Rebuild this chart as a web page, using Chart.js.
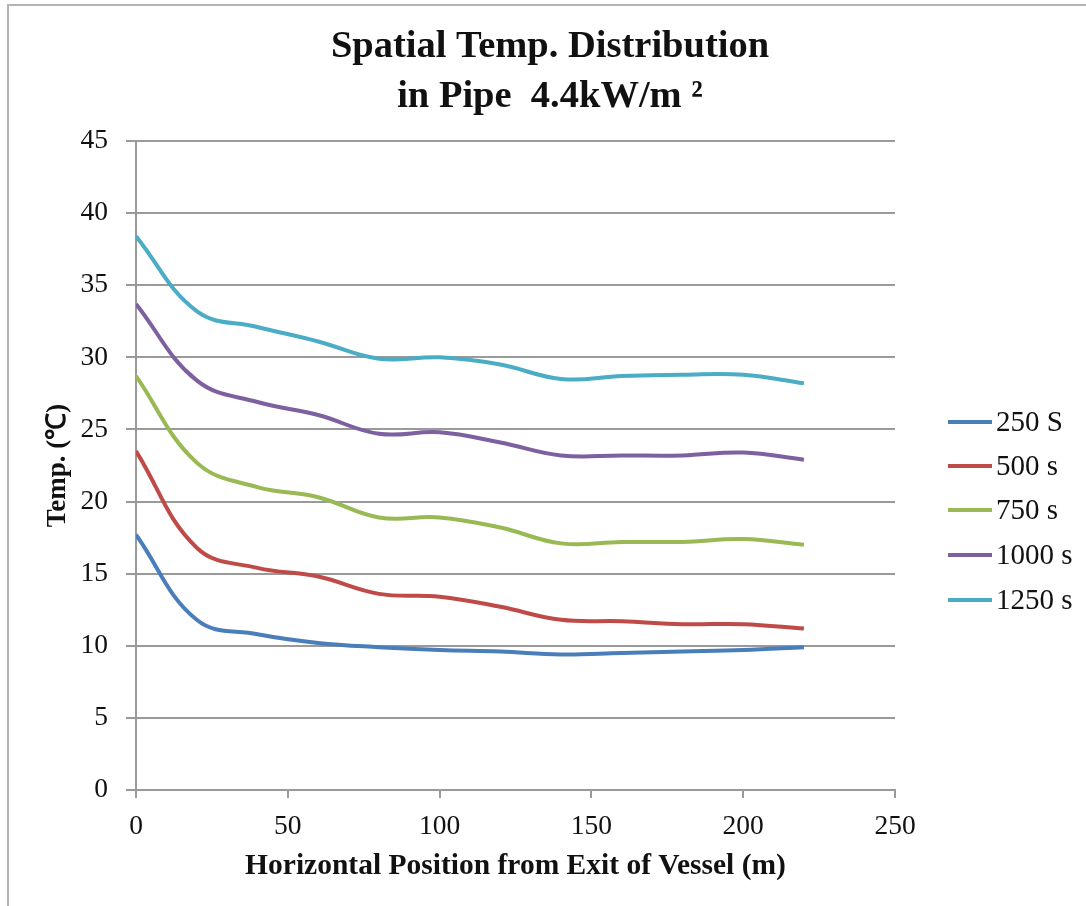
<!DOCTYPE html>
<html>
<head>
<meta charset="utf-8">
<script src="https://cdn.jsdelivr.net/npm/chart.js@4/dist/chart.umd.min.js"></script>
<style>
  html, body { margin: 0; padding: 0; background: #ffffff; }
  #wrap { width: 1086px; height: 906px; position: relative; }
</style>
</head>
<body>
<div id="wrap"><canvas id="c" width="1086" height="906"></canvas></div>
<script>
// Horizontal positions along the pipe (m)
const positions = [0, 20, 40, 60, 80, 100, 120, 140, 160, 180, 200, 220];

// Temperature (℃) at each position, one array per elapsed time
const temp250  = [17.7, 11.8, 10.8, 10.2, 9.9, 9.7, 9.6, 9.4, 9.5, 9.6, 9.7, 9.9];
const temp500  = [23.5, 16.8, 15.4, 14.8, 13.6, 13.4, 12.7, 11.8, 11.7, 11.5, 11.5, 11.2];
const temp750  = [28.7, 22.7, 21.0, 20.3, 18.9, 18.9, 18.2, 17.1, 17.2, 17.2, 17.4, 17.0];
const temp1000 = [33.7, 28.4, 26.9, 26.0, 24.7, 24.8, 24.1, 23.2, 23.2, 23.2, 23.4, 22.9];
const temp1250 = [38.4, 33.2, 32.1, 31.1, 29.9, 30.0, 29.5, 28.5, 28.7, 28.8, 28.8, 28.2];

const seriesLabels = ['250 S', '500 s', '750 s', '1000 s', '1250 s'];
const seriesValues = [temp250, temp500, temp750, temp1000, temp1250];
const seriesColors = ['#4A7EBB', '#BE4B48', '#98B954', '#7D60A0', '#4BACC6'];

const xTicks = [0, 50, 100, 150, 200, 250];
const yTicks = [0, 5, 10, 15, 20, 25, 30, 35, 40, 45];

const titleLines = ['Spatial Temp. Distribution', 'in Pipe  4.4kW/m ²'];

const SERIF = '"Liberation Serif", "Times New Roman", serif';
const GRID = '#9a9a9a';

const datasets = seriesValues.map((vals, i) => ({
  label: seriesLabels[i],
  data: vals.map((v, k) => ({ x: positions[k], y: v })),
  borderColor: seriesColors[i],
  backgroundColor: seriesColors[i],
  borderWidth: 4,
  pointRadius: 0,
  tension: 0.4,
  fill: false
}));

// Frame lines along the top and left edges
const framePlugin = {
  id: 'frame',
  beforeDraw(chart) {
    const ctx = chart.ctx;
    ctx.save();
    ctx.fillStyle = '#ffffff';
    ctx.fillRect(0, 0, chart.width, chart.height);
    ctx.strokeStyle = '#b4b4b4';
    ctx.lineWidth = 2;
    ctx.beginPath();
    ctx.moveTo(8, chart.height);
    ctx.lineTo(8, 5);
    ctx.lineTo(chart.width, 5);
    ctx.stroke();
    ctx.restore();
  }
};

// Two-line chart title, centred over the whole chart including the legend column
const titlePlugin = {
  id: 'twoLineTitle',
  afterDraw(chart) {
    const ctx = chart.ctx;
    ctx.save();
    ctx.font = 'bold 38.5px ' + SERIF;
    ctx.fillStyle = '#111111';
    ctx.textAlign = 'center';
    ctx.textBaseline = 'middle';
    ctx.fillText(titleLines[0], 550, 47);
    ctx.fillText(titleLines[1], 550, 97);
    ctx.restore();
  }
};

// Legend at the right: short line sample followed by the series name
const sideLegend = {
  id: 'sideLegend',
  afterDraw(chart) {
    const ctx = chart.ctx;
    const rows = [422, 466, 510, 555, 600];
    ctx.save();
    ctx.font = '29px ' + SERIF;
    ctx.textBaseline = 'middle';
    ctx.textAlign = 'left';
    chart.data.datasets.forEach((ds, i) => {
      const y = rows[i];
      ctx.strokeStyle = ds.borderColor;
      ctx.lineWidth = 4;
      ctx.beginPath();
      ctx.moveTo(948, y);
      ctx.lineTo(992, y);
      ctx.stroke();
      ctx.fillStyle = '#111111';
      ctx.fillText(ds.label, 996, y + 1);
    });
    ctx.restore();
  }
};

new Chart(document.getElementById('c'), {
  type: 'line',
  data: { datasets },
  plugins: [framePlugin, titlePlugin, sideLegend],
  options: {
    responsive: false,
    animation: false,
    layout: { padding: { left: 0, right: 191, top: 141, bottom: 0 } },
    plugins: {
      legend: { display: false },
      tooltip: { enabled: false },
      title: { display: false }
    },
    scales: {
      x: {
        type: 'linear',
        min: 0,
        max: 250,
        afterBuildTicks(scale) { scale.ticks = xTicks.map(v => ({ value: v })); },
        afterFit(scale) { scale.height = 116; },
        ticks: {
          color: '#111111',
          font: { family: SERIF, size: 27.5 },
          padding: 12,
          maxRotation: 0
        },
        grid: { drawOnChartArea: false, drawTicks: true, tickLength: 8, color: GRID, lineWidth: 2 },
        border: { color: GRID, width: 2 },
        title: {
          display: true,
          text: 'Horizontal Position from Exit of Vessel (m)',
          color: '#111111',
          font: { family: SERIF, size: 29.5, weight: 'bold' },
          padding: { top: 0, bottom: 22 }
        }
      },
      y: {
        min: 0,
        max: 45,
        afterBuildTicks(scale) { scale.ticks = yTicks.map(v => ({ value: v })); },
        afterFit(scale) { scale.width = 136; },
        ticks: {
          color: '#111111',
          font: { family: SERIF, size: 27.5 },
          padding: 18
        },
        grid: { color: GRID, lineWidth: 2, tickLength: 10 },
        border: { color: GRID, width: 2 },
        title: {
          display: true,
          text: 'Temp. (℃)',
          color: '#111111',
          font: { family: SERIF, size: 27, weight: 'bold' },
          padding: { top: 42, bottom: 0 }
        }
      }
    }
  }
});
</script>
</body>
</html>
